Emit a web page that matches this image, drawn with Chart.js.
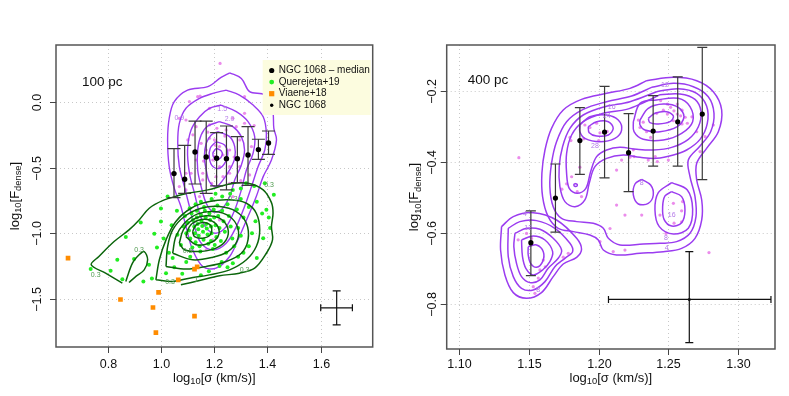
<!DOCTYPE html>
<html>
<head>
<meta charset="utf-8">
<script src="https://cdn.jsdelivr.net/npm/chart.js@4.4.1/dist/chart.umd.min.js"></script>
<style>
  html, body { margin: 0; padding: 0; background: #fff; }
  #wrap { position: relative; width: 789px; height: 396px; }
  canvas { position: absolute; top: 0; }
  #c100 { left: 0; }
  #c400 { left: 395px; }
</style>
</head>
<body>
<div id="wrap">
  <canvas id="c100" width="395" height="396"></canvas>
  <canvas id="c400" width="394" height="396"></canvas>
</div>
<script>
// ---------- 100 pc panel ----------
const xTicks100 = [0.8, 1.0, 1.2, 1.4, 1.6];
const xTickLabels100 = ['0.8', '1.0', '1.2', '1.4', '1.6'];
const yTicks100 = [0.0, -0.5, -1.0, -1.5];
const yTickLabels100 = ['0.0', '\u22120.5', '\u22121.0', '\u22121.5'];

const medX100 = [1.049, 1.089, 1.128, 1.170, 1.209, 1.246, 1.287, 1.327, 1.366, 1.404];
const medY100 = [-0.546, -0.589, -0.381, -0.419, -0.429, -0.432, -0.432, -0.404, -0.363, -0.312];
const errLo100 = [-0.729, -0.696, -0.625, -0.696, -0.640, -0.670, -0.614, -0.635, -0.437, -0.399];
const errHi100 = [-0.356, -0.330, -0.145, -0.145, -0.234, -0.183, -0.264, -0.188, -0.284, -0.221];

const viaeneX = [0.651, 0.848, 0.991, 0.970, 0.981, 1.065, 1.126, 1.136, 1.126];
const viaeneY = [-1.190, -1.506, -1.452, -1.567, -1.759, -1.356, -1.274, -1.257, -1.632];

const crossX100 = [1.600, 1.660, 1.719];
const crossY100 = [-1.700, -1.569, -1.440];

const ngcPixels100 = [
  [1.222, 0.294], [1.138, 0.041], [1.147, 0.046], [1.182, -0.048], [1.107, 0.003], [1.314, 0.041],
  [1.314, -0.086], [1.270, -0.124], [1.094, -0.137], [1.069, -0.124], [1.132, -0.188], [1.182, -0.175],
  [1.245, -0.213], [1.283, -0.188], [1.201, -0.289], [1.220, -0.340], [1.258, -0.366], [1.170, -0.366],
  [1.151, -0.315], [1.195, -0.442], [1.220, -0.493], [1.258, -0.493], [1.296, -0.493], [1.233, -0.569],
  [1.258, -0.543], [1.101, -0.289], [1.314, -0.162], [1.296, -0.289], [1.340, -0.340], [1.157, -0.594],
  [1.207, -0.569], [1.258, -0.620], [1.157, -0.543], [1.182, -0.277], [1.201, -0.416], [1.233, -0.404],
  [1.333, -0.556], [1.113, -0.543], [1.132, -0.442], [1.094, -0.670], [1.145, -0.721], [1.195, -0.746],
  [1.145, -0.848], [1.220, -0.899], [1.258, -0.950], [1.195, -1.051], [1.170, -1.127], [1.270, -0.721],
  [1.094, -0.543], [1.069, -0.645], [1.176, -0.230], [1.240, -0.260], [1.210, -0.200], [1.275, -0.420],
  [1.160, -0.450], [1.190, -0.620], [1.300, -0.600], [1.350, -0.180], [1.120, -0.250], [1.205, -0.330]
];

const querejetaPts = [
  [0.736, -1.274], [0.811, -1.287], [0.836, -1.203], [0.855, -1.351], [0.868, -1.030], [0.924, -0.919],
  [0.934, -1.368], [0.966, -1.345], [1.000, -0.812], [1.000, -0.911], [1.025, -0.721], [1.019, -1.305],
  [1.044, -1.190], [0.899, -1.197], [0.955, -1.241], [0.985, -1.110], [0.975, -1.004], [1.010, -1.040],
  [1.030, -1.150], [1.050, -1.260], [1.080, -1.310], [1.095, -1.220], [1.110, -1.180], [1.060, -0.830],
  [1.040, -0.940], [1.062, -1.012], [1.075, -1.090],
  [1.090, -0.870], [1.100, -0.920], [1.105, -0.980], [1.110, -1.040], [1.115, -0.850], [1.120, -0.900],
  [1.125, -0.950], [1.128, -1.000], [1.130, -1.070], [1.135, -0.880], [1.138, -0.930], [1.140, -0.970],
  [1.142, -1.020], [1.145, -1.100], [1.150, -0.860], [1.152, -0.905], [1.155, -0.945], [1.158, -0.990],
  [1.160, -1.050], [1.165, -0.830], [1.168, -0.880], [1.170, -0.930], [1.172, -0.965], [1.175, -1.010],
  [1.178, -1.080], [1.182, -0.850], [1.185, -0.900], [1.188, -0.950], [1.190, -1.000], [1.195, -1.120],
  [1.198, -0.820], [1.200, -0.880], [1.205, -0.940], [1.208, -1.030], [1.212, -0.790], [1.215, -0.870],
  [1.220, -0.960], [1.225, -1.060], [1.230, -0.830], [1.235, -0.910], [1.240, -0.990], [1.245, -1.150],
  [1.250, -0.780], [1.255, -0.870], [1.262, -0.950], [1.268, -1.040], [1.108, -0.810], [1.118, -1.110],
  [1.148, -1.140], [1.162, -0.800], [1.188, -1.060], [1.202, -1.090], [1.135, -0.830], [1.095, -1.000],
  [1.085, -0.950],
  [1.270, -0.670], [1.320, -0.620], [1.390, -0.620], [1.424, -0.708], [1.396, -0.822], [1.380, -0.850],
  [1.355, -0.910], [1.342, -1.000], [1.330, -1.100], [1.384, -1.038], [1.310, -1.150], [1.290, -1.180],
  [1.270, -1.230], [1.250, -1.260], [1.228, -1.220], [1.300, -0.740], [1.285, -0.820], [1.310, -0.880],
  [1.330, -0.800], [1.360, -0.760], [1.290, -0.960], [1.300, -1.020], [1.275, -1.100], [1.350, -0.640],
  [1.220, -1.250], [1.180, -1.290], [1.150, -1.320], [1.360, -1.190], [1.410, -0.960], [1.405, -0.880],
  [1.150, -0.760], [1.190, -0.740], [1.230, -0.720], [1.260, -0.700], [1.130, -0.780], [1.300, -0.660],
  [1.205, -0.700]
];

const purpleContours100 = [
  [[1.258, 0.223], [1.302, 0.180], [1.333, 0.079], [1.390, 0.053], [1.419, -0.061], [1.424, -0.201],
   [1.434, -0.289], [1.415, -0.442], [1.384, -0.569], [1.358, -0.721], [1.327, -0.873], [1.289, -1.051],
   [1.258, -1.178], [1.207, -1.267], [1.157, -1.254], [1.119, -1.127], [1.094, -0.950], [1.075, -0.797],
   [1.050, -0.658], [1.031, -0.492], [1.025, -0.289], [1.031, -0.124], [1.050, 0.003], [1.100, 0.091],
   [1.176, 0.117], [1.226, 0.188]],
  [[1.245, 0.091], [1.295, 0.053], [1.346, -0.023], [1.384, -0.112], [1.396, -0.239], [1.390, -0.366],
   [1.365, -0.492], [1.340, -0.645], [1.314, -0.797], [1.283, -0.950], [1.245, -1.076], [1.195, -1.127],
   [1.151, -1.076], [1.126, -0.950], [1.107, -0.797], [1.088, -0.645], [1.069, -0.492], [1.063, -0.315],
   [1.069, -0.163], [1.094, -0.048], [1.145, 0.028], [1.195, 0.066]],
  [[1.226, -0.023], [1.283, -0.074], [1.327, -0.150], [1.352, -0.264], [1.346, -0.391], [1.321, -0.518],
   [1.302, -0.670], [1.277, -0.823], [1.245, -0.950], [1.207, -1.000], [1.170, -0.962], [1.145, -0.848],
   [1.126, -0.696], [1.107, -0.543], [1.100, -0.366], [1.113, -0.213], [1.145, -0.112], [1.182, -0.048]],
  [[1.220, -0.150], [1.270, -0.188], [1.302, -0.264], [1.314, -0.366], [1.302, -0.480], [1.277, -0.594],
   [1.258, -0.721], [1.226, -0.823], [1.195, -0.835], [1.170, -0.772], [1.151, -0.645], [1.138, -0.518],
   [1.138, -0.366], [1.151, -0.251], [1.176, -0.183]],
  [[1.214, -0.226], [1.258, -0.264], [1.277, -0.340], [1.277, -0.429], [1.258, -0.518], [1.233, -0.594],
   [1.207, -0.645], [1.182, -0.607], [1.170, -0.518], [1.163, -0.416], [1.170, -0.315], [1.189, -0.251]],
  [[1.207, -0.302], [1.239, -0.328], [1.251, -0.391], [1.243, -0.454], [1.220, -0.505], [1.195, -0.492],
   [1.182, -0.429], [1.185, -0.353]],
  [[1.207, -0.353], [1.226, -0.371], [1.230, -0.404], [1.217, -0.437], [1.201, -0.429], [1.195, -0.391]]
];

// outer green contours are open where they meet the edge of the density grid
const greenOpen100 = [
  [[0.855, -1.381], [0.792, -1.305], [0.738, -1.241], [0.767, -1.178], [0.824, -1.064], [0.880, -0.975],
   [0.918, -0.899], [0.956, -0.810], [1.006, -0.752], [1.069, -0.711], [1.100, -0.696], [1.176, -0.670],
   [1.258, -0.625], [1.327, -0.619], [1.384, -0.670], [1.415, -0.767], [1.421, -0.848], [1.415, -0.950],
   [1.419, -1.051], [1.396, -1.153], [1.352, -1.267], [1.295, -1.305], [1.220, -1.325], [1.145, -1.361],
   [1.075, -1.394]],
  [[0.868, -1.368], [0.893, -1.229], [0.918, -1.165], [0.937, -1.140], [0.950, -1.203], [0.937, -1.280],
   [0.906, -1.330], [0.880, -1.376]]
];
const greenContours100 = [
  [[0.981, -1.356], [0.994, -1.203], [1.019, -1.051], [1.056, -0.911], [1.113, -0.810], [1.182, -0.759],
   [1.258, -0.746], [1.321, -0.772], [1.358, -0.848], [1.371, -0.975], [1.358, -1.102], [1.321, -1.203],
   [1.258, -1.280], [1.182, -1.318], [1.107, -1.343], [1.044, -1.368]],
  [[1.019, -1.254], [1.025, -1.102], [1.044, -0.975], [1.088, -0.873], [1.151, -0.810], [1.220, -0.797],
   [1.283, -0.835], [1.321, -0.924], [1.327, -1.051], [1.302, -1.153], [1.245, -1.216], [1.170, -1.254],
   [1.094, -1.274]],
  [[1.044, -1.153], [1.056, -1.026], [1.088, -0.924], [1.138, -0.853], [1.201, -0.835], [1.258, -0.873],
   [1.289, -0.962], [1.285, -1.064], [1.251, -1.140], [1.195, -1.183], [1.119, -1.203]],
  [[1.069, -1.076], [1.084, -0.975], [1.119, -0.899], [1.170, -0.868], [1.220, -0.886], [1.251, -0.962],
   [1.245, -1.051], [1.207, -1.114], [1.145, -1.140], [1.088, -1.127]],
  [[1.094, -1.026], [1.107, -0.950], [1.138, -0.904], [1.182, -0.899], [1.214, -0.950], [1.214, -1.026],
   [1.182, -1.076], [1.132, -1.089]],
  [[1.119, -0.988], [1.132, -0.937], [1.163, -0.919], [1.189, -0.950], [1.185, -1.013], [1.157, -1.038],
   [1.126, -1.026]]
];

const purpleLabels100 = [[1.069, -0.124, '0.9'], [1.230, -0.056, '1.5'], [1.258, -0.129, '2.0']];
const greenLabels100 = [[0.918, -1.127, '0.3'], [0.755, -1.318, '0.3'], [1.034, -1.374, '0.3'],
  [1.314, -1.285, '0.3'], [1.406, -0.637, '0.3'], [1.132, -1.361, '1'], [1.100, -1.140, '0.5'],
  [1.270, -0.741, '0.3']];

const legendLabels100 = ['NGC 1068 \u2013 median', 'Querejeta+19', 'Viaene+18', 'NGC 1068'];

// ---------- 400 pc panel ----------
const xTicks400 = [1.10, 1.15, 1.20, 1.25, 1.30];
const xTickLabels400 = ['1.10', '1.15', '1.20', '1.25', '1.30'];
const yTicks400 = [-0.2, -0.4, -0.6, -0.8];
const yTickLabels400 = ['\u22120.2', '\u22120.4', '\u22120.6', '\u22120.8'];

const medX400 = [1.1514, 1.169, 1.1865, 1.2042, 1.2214, 1.239, 1.2566, 1.2742];
const medY400 = [-0.628, -0.502, -0.340, -0.316, -0.374, -0.313, -0.287, -0.265];
const errLo400 = [-0.721, -0.598, -0.435, -0.445, -0.484, -0.412, -0.412, -0.450];
const errHi400 = [-0.538, -0.406, -0.247, -0.187, -0.264, -0.213, -0.160, -0.077];

const crossX400 = [1.207, 1.2649, 1.3234];
const crossY400 = [-0.910, -0.788, -0.653];

const ngcPixels400 = [
  [1.1806, -0.442], [1.1794, -0.331], [1.1801, -0.340], [1.1901, -0.296], [1.1937, -0.303], [1.1985, -0.291],
  [1.2009, -0.318], [1.2061, -0.314], [1.1894, -0.335], [1.2000, -0.340], [1.1865, -0.415], [1.1877, -0.498],
  [1.1846, -0.484], [1.1770, -0.462], [1.1736, -0.477], [1.2128, -0.522], [1.2188, -0.550], [1.2308, -0.550],
  [1.2009, -0.625], [1.2104, -0.653], [1.2188, -0.649], [1.2081, -0.588], [1.2482, -0.602], [1.2535, -0.517],
  [1.2594, -0.538], [1.2601, -0.512], [1.2540, -0.573], [1.2439, -0.550], [1.2594, -0.569], [1.2499, -0.395],
  [1.2405, -0.385], [1.2420, -0.399], [1.2284, -0.282], [1.2319, -0.288], [1.2296, -0.303], [1.2343, -0.315],
  [1.2372, -0.331], [1.2415, -0.263], [1.2463, -0.254], [1.2492, -0.265], [1.2515, -0.246], [1.2539, -0.256],
  [1.2563, -0.265], [1.2587, -0.270], [1.2620, -0.274], [1.2597, -0.293], [1.2635, -0.291], [1.2668, -0.273],
  [1.2535, -0.284], [1.2444, -0.227], [1.2492, -0.237], [1.2563, -0.237], [1.2597, -0.254], [1.2248, -0.366],
  [1.2224, -0.387], [1.2253, -0.385], [1.2355, -0.395], [1.1603, -0.677], [1.1579, -0.705], [1.1617, -0.696],
  [1.1567, -0.728], [1.1543, -0.771], [1.1782, -0.658], [1.1746, -0.669], [1.1483, -0.602], [1.1519, -0.616],
  [1.1423, -0.620], [1.1531, -0.752], [1.1428, -0.388], [1.2790, -0.656], [1.2128, -0.423], [1.2164, -0.395],
  [1.2726, -0.371], [1.2821, -0.296], [1.2762, -0.329], [1.2702, -0.315]
];

const purpleContours400 = [
  [[1.2343, -0.1709], [1.2535, -0.1615], [1.2702, -0.1709], [1.2821, -0.2019], [1.2881, -0.2536],
   [1.2857, -0.3148], [1.2773, -0.3618], [1.2702, -0.4041], [1.2702, -0.4511], [1.2738, -0.5075],
   [1.2738, -0.5639], [1.2690, -0.6157], [1.2594, -0.6439], [1.2463, -0.6533], [1.2296, -0.6580],
   [1.2128, -0.6627], [1.2033, -0.6486], [1.1997, -0.6204], [1.1937, -0.6063], [1.1818, -0.5968],
   [1.1710, -0.5874], [1.1638, -0.5545], [1.1598, -0.4981], [1.1593, -0.4323], [1.1615, -0.3665],
   [1.1662, -0.3054], [1.1746, -0.2536], [1.1877, -0.2236], [1.2057, -0.2066], [1.2224, -0.1925]],
  [[1.2379, -0.1897], [1.2535, -0.1784], [1.2678, -0.1878], [1.2785, -0.2160], [1.2826, -0.2630],
   [1.2802, -0.3148], [1.2726, -0.3552], [1.2642, -0.3947], [1.2654, -0.4417], [1.2690, -0.4981],
   [1.2697, -0.5545], [1.2654, -0.6015], [1.2558, -0.6251], [1.2439, -0.6298], [1.2319, -0.6316],
   [1.2152, -0.6345], [1.2069, -0.6157], [1.2033, -0.5874], [1.1961, -0.5733], [1.1842, -0.5686],
   [1.1734, -0.5592], [1.1674, -0.5263], [1.1650, -0.4699], [1.1662, -0.4041], [1.1698, -0.3430],
   [1.1770, -0.2866], [1.1889, -0.2518], [1.2057, -0.2301], [1.2236, -0.2142]],
  [[1.2415, -0.2019], [1.2570, -0.1935], [1.2702, -0.2066], [1.2773, -0.2424], [1.2778, -0.2913],
   [1.2726, -0.3364], [1.2630, -0.3665], [1.2535, -0.3806], [1.2415, -0.3900], [1.2296, -0.3872],
   [1.2176, -0.3806], [1.2057, -0.3900], [1.1973, -0.4135], [1.1932, -0.4605], [1.1901, -0.5075],
   [1.1830, -0.5263], [1.1758, -0.5122], [1.1722, -0.4699], [1.1717, -0.4135], [1.1741, -0.3571],
   [1.1794, -0.3054], [1.1889, -0.2677], [1.2045, -0.2442], [1.2224, -0.2301]],
  [[1.2439, -0.2104], [1.2582, -0.2085], [1.2690, -0.2236], [1.2733, -0.2583], [1.2714, -0.3007],
   [1.2642, -0.3364], [1.2523, -0.3590], [1.2391, -0.3665], [1.2272, -0.3646], [1.2152, -0.3590],
   [1.2057, -0.3665], [1.1985, -0.3853], [1.1942, -0.4276], [1.1908, -0.4746], [1.1846, -0.4887],
   [1.1789, -0.4746], [1.1770, -0.4323], [1.1770, -0.3759], [1.1806, -0.3242], [1.1889, -0.2866],
   [1.2033, -0.2630], [1.2200, -0.2518], [1.2319, -0.2330]],
  [[1.1865, -0.2960], [1.1937, -0.2724], [1.2057, -0.2677], [1.2140, -0.2819], [1.2164, -0.3101],
   [1.2116, -0.3336], [1.2009, -0.3430], [1.1901, -0.3336], [1.1865, -0.3148]],
  [[1.1925, -0.3007], [1.1985, -0.2866], [1.2069, -0.2866], [1.2104, -0.3054], [1.2069, -0.3242],
   [1.1985, -0.3270], [1.1932, -0.3176]],
  [[1.2248, -0.2866], [1.2296, -0.2348], [1.2415, -0.2254], [1.2570, -0.2207], [1.2654, -0.2442],
   [1.2673, -0.2866], [1.2594, -0.3195], [1.2463, -0.3383], [1.2319, -0.3364], [1.2253, -0.3148]],
  [[1.2296, -0.2819], [1.2355, -0.2489], [1.2463, -0.2367], [1.2570, -0.2461], [1.2611, -0.2724],
   [1.2563, -0.3007], [1.2439, -0.3148], [1.2331, -0.3101], [1.2296, -0.2960]],
  [[1.2355, -0.2772], [1.2403, -0.2630], [1.2487, -0.2583], [1.2535, -0.2706], [1.2511, -0.2866],
   [1.2427, -0.2931], [1.2367, -0.2894]],
  [[1.2523, -0.4840], [1.2594, -0.4981], [1.2618, -0.5357], [1.2594, -0.5715], [1.2523, -0.5809],
   [1.2468, -0.5621], [1.2458, -0.5263], [1.2475, -0.4962]],
  [[1.2523, -0.4586], [1.2635, -0.4793], [1.2673, -0.5338], [1.2642, -0.5874], [1.2535, -0.6034],
   [1.2434, -0.5827], [1.2403, -0.5357], [1.2427, -0.4868]],
  [[1.2308, -0.4492], [1.2372, -0.4652], [1.2391, -0.4934], [1.2355, -0.5170], [1.2284, -0.5188],
   [1.2248, -0.4934], [1.2260, -0.4624]],
  [[1.1828, -0.4610], [1.1845, -0.4630], [1.1845, -0.4680], [1.1828, -0.4690], [1.1822, -0.4650]],
  [[1.1304, -0.5827], [1.1388, -0.5545], [1.1531, -0.5433], [1.1698, -0.5640], [1.1842, -0.6157],
   [1.1877, -0.6467], [1.1842, -0.6693], [1.1746, -0.6881], [1.1674, -0.7238], [1.1590, -0.7689],
   [1.1483, -0.7849], [1.1388, -0.7689], [1.1328, -0.7191], [1.1297, -0.6486]],
  [[1.1352, -0.5874], [1.1435, -0.5686], [1.1555, -0.5658], [1.1686, -0.5874], [1.1794, -0.6298],
   [1.1813, -0.6533], [1.1758, -0.6721], [1.1686, -0.6956], [1.1615, -0.7379], [1.1531, -0.7614],
   [1.1447, -0.7567], [1.1388, -0.7238], [1.1352, -0.6674]],
  [[1.1400, -0.6015], [1.1483, -0.5874], [1.1579, -0.5903], [1.1674, -0.6157], [1.1734, -0.6486],
   [1.1710, -0.6721], [1.1638, -0.7003], [1.1579, -0.7332], [1.1507, -0.7407], [1.1447, -0.7238],
   [1.1411, -0.6862], [1.1392, -0.6392]],
  [[1.1447, -0.6204], [1.1531, -0.6091], [1.1615, -0.6204], [1.1670, -0.6533], [1.1650, -0.6815],
   [1.1598, -0.7050], [1.1531, -0.7191], [1.1478, -0.7003], [1.1454, -0.6674]],
  [[1.1495, -0.6392], [1.1555, -0.6345], [1.1603, -0.6533], [1.1598, -0.6815], [1.1555, -0.6975],
   [1.1512, -0.6862], [1.1495, -0.6627]]
];

const purpleLabels400 = [[1.2487, -0.644, '4'], [1.2482, -0.616, '8'], [1.2523, -0.551, '16'],
  [1.2308, -0.461, '8'], [1.2475, -0.183, '12'], [1.2093, -0.244, '16'], [1.2057, -0.272, '24'],
  [1.1973, -0.354, '28'], [1.1471, -0.547, '4'], [1.1495, -0.587, '12'], [1.1567, -0.761, '8']];

// ---------- drawing helpers ----------
const FONT = '"Liberation Sans", Arial, Helvetica, sans-serif';
const PURPLE = '#9b3cf0';
const DKGREEN = '#0b650b';

function pts(list, closed) {
  const d = list.map(p => ({ x: p[0], y: p[1] }));
  if (closed) d.push({ x: list[0][0], y: list[0][1] });
  return d;
}
function zipXY(xs, ys) {
  return xs.map((v, i) => ({ x: v, y: ys[i] }));
}
function contourSets(list, color, width, closed, order) {
  return list.map(c => ({
    data: pts(c, closed), showLine: true, pointRadius: 0, borderColor: color,
    borderWidth: width, tension: 0.35, fill: false, order: order
  }));
}

function drawRich(ctx, parts, cx, cy, size, vertical) {
  ctx.save();
  ctx.translate(cx, cy);
  if (vertical) ctx.rotate(-Math.PI / 2);
  ctx.fillStyle = '#111';
  ctx.textBaseline = 'middle';
  ctx.textAlign = 'left';
  let total = 0;
  parts.forEach(p => {
    ctx.font = (p.sub ? size * 0.72 : size) + 'px ' + FONT;
    p.w = ctx.measureText(p.t).width;
    total += p.w;
  });
  let x = -total / 2;
  parts.forEach(p => {
    ctx.font = (p.sub ? size * 0.72 : size) + 'px ' + FONT;
    ctx.fillText(p.t, x, p.sub ? size * 0.3 : 0);
    x += p.w;
  });
  ctx.restore();
}

function makeDecor(cfg) {
  return {
    id: 'decor',
    beforeDatasetsDraw(chart) {
      const { ctx, chartArea: a, scales: { x, y } } = chart;
      ctx.save();
      ctx.strokeStyle = '#c8c8c8';
      ctx.lineWidth = 1;
      ctx.setLineDash([1, 3]);
      cfg.xTicks.forEach(v => {
        const px = Math.round(x.getPixelForValue(v)) + 0.5;
        ctx.beginPath(); ctx.moveTo(px, a.top); ctx.lineTo(px, a.bottom); ctx.stroke();
      });
      cfg.yTicks.forEach(v => {
        const py = Math.round(y.getPixelForValue(v)) + 0.5;
        ctx.beginPath(); ctx.moveTo(a.left, py); ctx.lineTo(a.right, py); ctx.stroke();
      });
      ctx.restore();
    },
    beforeDatasetDraw(chart, args) {
      if (chart.data.datasets[args.index].label !== 'median') return;
      const { ctx, scales: { x, y } } = chart;
      ctx.save();
      ctx.strokeStyle = cfg.barColor;
      ctx.lineWidth = 1.2;
      cfg.medX.forEach((v, i) => {
        const px = x.getPixelForValue(v);
        const y1 = y.getPixelForValue(cfg.errLo[i]);
        const y2 = y.getPixelForValue(cfg.errHi[i]);
        ctx.beginPath();
        ctx.moveTo(px, y1); ctx.lineTo(px, y2);
        ctx.moveTo(px - cfg.cap, y1); ctx.lineTo(px + cfg.cap, y1);
        ctx.moveTo(px - cfg.cap, y2); ctx.lineTo(px + cfg.cap, y2);
        ctx.stroke();
      });
      // representative uncertainty cross
      ctx.strokeStyle = '#111';
      const cx0 = x.getPixelForValue(cfg.crossX[0]), cx1 = x.getPixelForValue(cfg.crossX[1]), cx2 = x.getPixelForValue(cfg.crossX[2]);
      const cy0 = y.getPixelForValue(cfg.crossY[0]), cy1 = y.getPixelForValue(cfg.crossY[1]), cy2 = y.getPixelForValue(cfg.crossY[2]);
      ctx.beginPath();
      ctx.moveTo(cx0, cy1); ctx.lineTo(cx2, cy1);
      ctx.moveTo(cx0, cy1 - 3.5); ctx.lineTo(cx0, cy1 + 3.5);
      ctx.moveTo(cx2, cy1 - 3.5); ctx.lineTo(cx2, cy1 + 3.5);
      ctx.moveTo(cx1, cy0); ctx.lineTo(cx1, cy2);
      ctx.moveTo(cx1 - 4, cy0); ctx.lineTo(cx1 + 4, cy0);
      ctx.moveTo(cx1 - 4, cy2); ctx.lineTo(cx1 + 4, cy2);
      ctx.stroke();
      if (cfg.crossDot) {
        ctx.fillStyle = '#111';
        ctx.beginPath(); ctx.arc(cx1, cy1, 1.5, 0, Math.PI * 2); ctx.fill();
      }
      ctx.restore();
    },
    afterDatasetsDraw(chart) {
      const { ctx, chartArea: a, scales: { x, y } } = chart;
      ctx.save();
      // contour labels
      ctx.textAlign = 'center';
      ctx.textBaseline = 'middle';
      ctx.font = '7px ' + FONT;
      cfg.labels.forEach(set => {
        ctx.fillStyle = set.color;
        set.items.forEach(l => ctx.fillText(l[2], x.getPixelForValue(l[0]), y.getPixelForValue(l[1])));
      });
      // frame
      ctx.strokeStyle = '#555';
      ctx.lineWidth = 1.5;
      ctx.strokeRect(a.left, a.top, a.right - a.left, a.bottom - a.top);
      // ticks
      ctx.lineWidth = 1;
      ctx.strokeStyle = '#444';
      ctx.fillStyle = '#111';
      ctx.font = '12.5px ' + FONT;
      cfg.xTicks.forEach((v, i) => {
        const px = Math.round(x.getPixelForValue(v)) + 0.5;
        ctx.beginPath(); ctx.moveTo(px, a.bottom); ctx.lineTo(px, a.bottom + 6); ctx.stroke();
        ctx.fillText(cfg.xTickLabels[i], px, a.bottom + cfg.xLabelGap);
      });
      cfg.yTicks.forEach((v, i) => {
        const py = Math.round(y.getPixelForValue(v)) + 0.5;
        ctx.beginPath(); ctx.moveTo(a.left - 6, py); ctx.lineTo(a.left, py); ctx.stroke();
        ctx.save();
        ctx.translate(a.left - cfg.yLabelGap, py);
        ctx.rotate(-Math.PI / 2);
        ctx.fillText(cfg.yTickLabels[i], 0, 0);
        ctx.restore();
      });
      // axis titles
      drawRich(ctx, [{ t: 'log' }, { t: '10', sub: true }, { t: '[\u03c3 (km/s)]' }],
        (a.left + a.right) / 2, a.bottom + cfg.xTitleGap, 13, false);
      drawRich(ctx, [{ t: 'log' }, { t: '10', sub: true }, { t: '[F' }, { t: 'dense', sub: true }, { t: ']' }],
        a.left - cfg.yTitleGap, (a.top + a.bottom) / 2, 13, true);
      // panel label
      ctx.fillStyle = '#111';
      ctx.textAlign = 'left';
      ctx.font = '13.5px ' + FONT;
      ctx.fillText(cfg.panel, a.left + cfg.panelDx, a.top + cfg.panelDy);
      // legend
      if (cfg.legend) {
        const lx = a.right - 110, ly = a.top + 15;
        ctx.fillStyle = '#fcfcdf';
        ctx.fillRect(lx, ly, 108, 55);
        ctx.font = '10px ' + FONT;
        const marks = [
          { c: '#000', r: 2.6, sq: false }, { c: '#22ee22', r: 2.4, sq: false },
          { c: '#ff8c00', r: 2.6, sq: true }, { c: '#000', r: 1.7, sq: false }
        ];
        cfg.legend.forEach((t, i) => {
          const yy = ly + 10.5 + i * 11.6;
          const m = marks[i];
          ctx.fillStyle = m.c;
          if (m.sq) ctx.fillRect(lx + 9 - m.r, yy - m.r, m.r * 2, m.r * 2);
          else { ctx.beginPath(); ctx.arc(lx + 9, yy, m.r, 0, Math.PI * 2); ctx.fill(); }
          ctx.fillStyle = '#111';
          ctx.fillText(t, lx + 16, yy);
        });
      }
      ctx.restore();
    }
  };
}

const baseOptions = (xmin, xmax, ymin, ymax, pad) => ({
  responsive: false,
  devicePixelRatio: 1,
  animation: false,
  events: [],
  layout: { padding: pad },
  plugins: { legend: { display: false }, tooltip: { enabled: false } },
  scales: {
    x: { type: 'linear', min: xmin, max: xmax, display: false },
    y: { type: 'linear', min: ymin, max: ymax, display: false }
  }
});

// ---------- 100 pc chart ----------
new Chart(document.getElementById('c100').getContext('2d'), {
  type: 'scatter',
  data: {
    datasets: [
      { data: pts(ngcPixels100), pointRadius: 1.6, backgroundColor: 'rgba(232,120,232,0.85)', borderWidth: 0, order: 70 },
      ...contourSets(purpleContours100, PURPLE, 1.4, true, 60),
      { data: pts(querejetaPts), pointRadius: 2, backgroundColor: '#22ee22', borderWidth: 0, order: 50 },
      ...contourSets(greenOpen100, DKGREEN, 1.5, false, 40),
      ...contourSets(greenContours100, DKGREEN, 1.5, true, 40),
      { data: zipXY(viaeneX, viaeneY), pointStyle: 'rect', pointRadius: 3.3, backgroundColor: '#ff8c00', borderWidth: 0, order: 30 },
      { label: 'median', data: zipXY(medX100, medY100), pointRadius: 2.7, backgroundColor: '#000', borderWidth: 0, order: 10 }
    ]
  },
  options: baseOptions(0.6058, 1.7953, -1.868, 0.4347, { left: 56, right: 22.3, top: 45, bottom: 49 }),
  plugins: [makeDecor({
    xTicks: xTicks100, xTickLabels: xTickLabels100, yTicks: yTicks100, yTickLabels: yTickLabels100,
    medX: medX100, errLo: errLo100, errHi: errHi100, cap: 6.5, barColor: '#3a3a3a',
    crossX: crossX100, crossY: crossY100, crossDot: false,
    labels: [{ color: '#b47ae8', items: purpleLabels100 }, { color: '#4f9a4f', items: greenLabels100 }],
    xLabelGap: 18, yLabelGap: 18, xTitleGap: 31, yTitleGap: 41,
    panel: '100 pc', panelDx: 26, panelDy: 37, legend: legendLabels100
  })]
});

// ---------- 400 pc chart ----------
new Chart(document.getElementById('c400').getContext('2d'), {
  type: 'scatter',
  data: {
    datasets: [
      { data: pts(ngcPixels400), pointRadius: 1.6, backgroundColor: 'rgba(232,120,232,0.85)', borderWidth: 0, order: 70 },
      ...contourSets(purpleContours400, PURPLE, 1.5, true, 60),
      { label: 'median', data: zipXY(medX400, medY400), pointRadius: 2.6, backgroundColor: '#000', borderWidth: 0, order: 10 }
    ]
  },
  options: baseOptions(1.0911, 1.3263, -0.928, -0.0702, { left: 51.7, right: 14, top: 45, bottom: 47 }),
  plugins: [makeDecor({
    xTicks: xTicks400, xTickLabels: xTickLabels400, yTicks: yTicks400, yTickLabels: yTickLabels400,
    medX: medX400, errLo: errLo400, errHi: errHi400, cap: 5, barColor: '#3a3a3a',
    crossX: crossX400, crossY: crossY400, crossDot: true,
    labels: [{ color: '#b47ae8', items: purpleLabels400 }],
    xLabelGap: 16, yLabelGap: 14.5, xTitleGap: 29, yTitleGap: 32,
    panel: '400 pc', panelDx: 21, panelDy: 35, legend: null
  })]
});
</script>
</body>
</html>
